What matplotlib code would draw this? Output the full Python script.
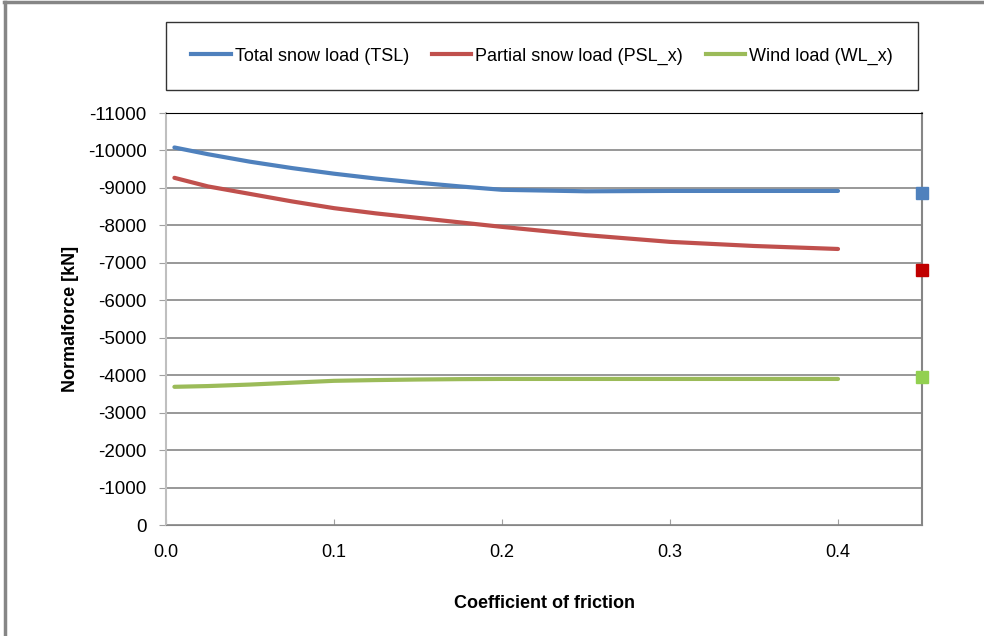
import matplotlib.pyplot as plt
from matplotlib.lines import Line2D

# friction coefficient vs normal force
mu = [0.005, 0.025, 0.05, 0.075, 0.1, 0.125, 0.15, 0.175, 0.2, 0.25, 0.3, 0.35, 0.4]
tsl = [-10080, -9900, -9700, -9530, -9380, -9250, -9140, -9040, -8950, -8910, -8920, -8920, -8920]
psl = [-9270, -9040, -8840, -8640, -8460, -8320, -8200, -8080, -7960, -7740, -7560, -7450, -7370]
wl = [-3690, -3710, -3750, -3800, -3850, -3870, -3885, -3895, -3900, -3900, -3900, -3900, -3900]

# single reference points on the right edge
ref_x = 0.45
ref_tsl = -8870
ref_psl = -6810
ref_wl = -3950

plt.rcParams['font.family'] = ['Liberation Sans', 'DejaVu Sans']

fig = plt.figure(figsize=(9.84, 6.36), dpi=100)
ax = fig.add_axes([0.1687, 0.1745, 0.9370 - 0.1687, 0.8223 - 0.1745])

ax.plot(mu, tsl, color='#4F81BD', lw=3, label='Total snow load (TSL)', solid_capstyle='round')
ax.plot(mu, psl, color='#C0504D', lw=3, label='Partial snow load (PSL_x)', solid_capstyle='round')
ax.plot(mu, wl, color='#9BBB59', lw=3, label='Wind load (WL_x)', solid_capstyle='round')

ax.plot([ref_x], [ref_tsl], 's', color='#4F81BD', ms=8, clip_on=False, zorder=5)
ax.plot([ref_x], [ref_psl], 's', color='#C00000', ms=8, clip_on=False, zorder=5)
ax.plot([ref_x], [ref_wl], 's', color='#92D050', ms=8, clip_on=False, zorder=5)

ax.set_xlim(0, 0.45)
ax.set_ylim(0, -11000)
ax.set_xticks([0.0, 0.1, 0.2, 0.3, 0.4])
ax.set_xticklabels(['0.0', '0.1', '0.2', '0.3', '0.4'])
ax.set_yticks(range(0, -12000, -1000))
ax.set_yticklabels([str(v) for v in range(0, -12000, -1000)])
ax.tick_params(axis='x', direction='in', length=4, color='#A0A0A0', labelsize=13, pad=14)
ax.tick_params(axis='y', direction='out', length=5, color='#A0A0A0', labelsize=13.5, pad=9)
ax.grid(axis='y', color='#868686', lw=1.2)
ax.set_axisbelow(True)

ax.spines['left'].set_color('#BFBFBF')
ax.spines['left'].set_linewidth(1.5)
ax.spines['bottom'].set_color('#868686')
ax.spines['right'].set_color('#868686')
ax.spines['right'].set_linewidth(1.5)
ax.spines['top'].set_color('black')

ax.set_ylabel('Normalforce [kN]', fontsize=13, fontweight='bold', labelpad=6)
ax.set_xlabel('Coefficient of friction', fontsize=13, fontweight='bold', labelpad=24)

handles = [Line2D([], [], color='#4F81BD', lw=3),
           Line2D([], [], color='#C0504D', lw=3),
           Line2D([], [], color='#9BBB59', lw=3)]
leg = fig.legend(handles, ['Total snow load (TSL)', 'Partial snow load (PSL_x)', 'Wind load (WL_x)'],
                 loc='lower left', bbox_to_anchor=(166 / 984, 1 - 90 / 636, 752 / 984, 68 / 636),
                 mode='expand', borderaxespad=0, ncol=3, fontsize=13,
                 frameon=True, fancybox=False, handlelength=2.2, handletextpad=0.2,
                 columnspacing=1.5, borderpad=1.4)
leg.get_frame().set_edgecolor('black')
leg.get_frame().set_linewidth(1.0)

# outer border (top and left edges)
fig.add_artist(Line2D([4 / 984, 1], [1 - 2 / 636, 1 - 2 / 636], color='#868686', lw=2.5,
                      transform=fig.transFigure))
fig.add_artist(Line2D([5 / 984, 5 / 984], [0, 1 - 2 / 636], color='#868686', lw=2.5,
                      transform=fig.transFigure))

fig.savefig('out.png', dpi=100)
